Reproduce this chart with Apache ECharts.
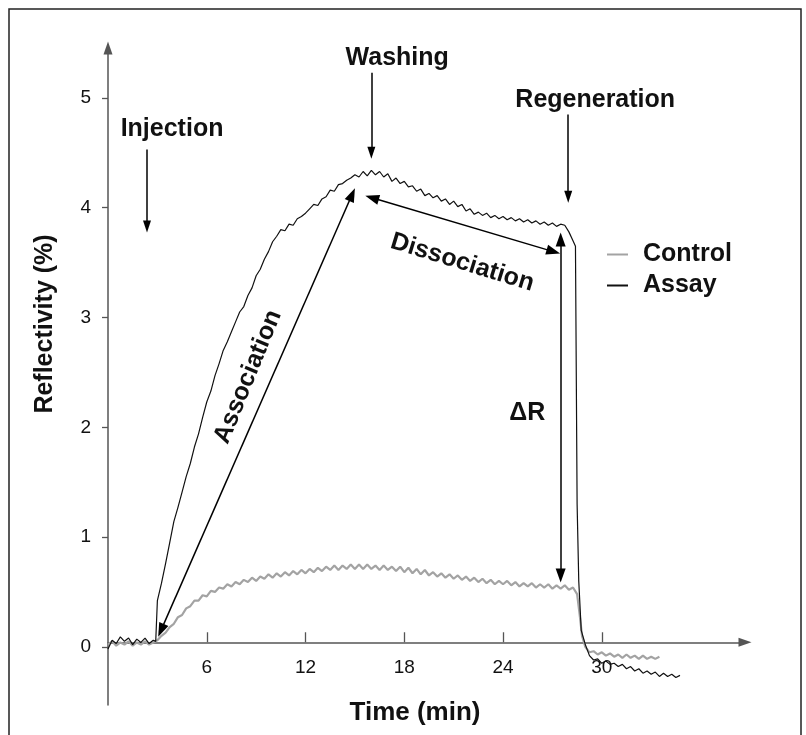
<!DOCTYPE html>
<html><head><meta charset="utf-8">
<script src="https://cdn.jsdelivr.net/npm/echarts@6/dist/echarts.min.js"></script>
<style>html,body{margin:0;padding:0;background:#fff}#c{width:806px;height:735px}</style>
</head><body><div id="c"></div>
<script>
// ---- data ----
const assayTime = [0,0.25,0.5,0.75,1,1.25,1.5,1.75,2,2.25,2.5,2.75,2.9,3,3.25,3.5,3.75,4,4.25,4.5,4.75,5,5.25,5.5,5.75,6,6.25,6.5,6.75,7,7.25,7.5,7.75,8,8.25,8.5,8.75,9,9.25,9.5,9.75,10,10.25,10.5,10.75,11,11.25,11.5,11.75,12,12.25,12.5,12.75,13,13.25,13.5,13.75,14,14.25,14.5,14.75,15,15.25,15.5,15.75,16,16.25,16.5,16.75,17,17.25,17.5,17.75,18,18.25,18.5,18.75,19,19.25,19.5,19.75,20,20.25,20.5,20.75,21,21.25,21.5,21.75,22,22.25,22.5,22.75,23,23.25,23.5,23.75,24,24.25,24.5,24.75,25,25.25,25.5,25.75,26,26.25,26.5,26.75,27,27.25,27.5,27.75,28,28.25,28.4,28.5,28.6,28.75,29,29.25,29.5,29.75,30,30.25,30.5,30.75,31,31.25,31.5,31.75,32,32.25,32.5,32.75,33,33.25,33.5,33.75,34,34.25,34.5,34.75];
const assayValue = [-0.02,0.06,0.03,0.09,0.05,0.08,0.02,0.07,0.04,0.08,0.03,0.06,0.05,0.42,0.58,0.76,0.95,1.14,1.27,1.41,1.55,1.67,1.82,1.94,2.09,2.23,2.33,2.47,2.58,2.70,2.78,2.87,2.96,3.05,3.10,3.20,3.27,3.38,3.44,3.53,3.60,3.69,3.74,3.80,3.79,3.85,3.84,3.90,3.92,3.95,3.99,4.03,4.02,4.08,4.10,4.16,4.15,4.21,4.22,4.25,4.27,4.30,4.28,4.33,4.29,4.34,4.30,4.33,4.28,4.31,4.24,4.27,4.22,4.24,4.19,4.20,4.15,4.17,4.11,4.13,4.09,4.11,4.06,4.08,4.03,4.06,4.01,4.03,3.97,3.99,3.94,3.96,3.93,3.95,3.91,3.93,3.90,3.92,3.89,3.91,3.88,3.90,3.87,3.89,3.86,3.88,3.85,3.87,3.84,3.86,3.83,3.85,3.84,3.78,3.70,3.65,1.30,0.60,0.15,0.02,-0.08,-0.12,-0.11,-0.15,-0.13,-0.16,-0.15,-0.18,-0.16,-0.20,-0.18,-0.22,-0.20,-0.24,-0.22,-0.25,-0.23,-0.27,-0.24,-0.27,-0.25,-0.28,-0.26];
const controlTime = [0,0.25,0.5,0.75,1,1.25,1.5,1.75,2,2.25,2.5,2.75,3,3.25,3.5,3.75,4,4.25,4.5,4.75,5,5.25,5.5,5.75,6,6.25,6.5,6.75,7,7.25,7.5,7.75,8,8.25,8.5,8.75,9,9.25,9.5,9.75,10,10.25,10.5,10.75,11,11.25,11.5,11.75,12,12.25,12.5,12.75,13,13.25,13.5,13.75,14,14.25,14.5,14.75,15,15.25,15.5,15.75,16,16.25,16.5,16.75,17,17.25,17.5,17.75,18,18.25,18.5,18.75,19,19.25,19.5,19.75,20,20.25,20.5,20.75,21,21.25,21.5,21.75,22,22.25,22.5,22.75,23,23.25,23.5,23.75,24,24.25,24.5,24.75,25,25.25,25.5,25.75,26,26.25,26.5,26.75,27,27.25,27.5,27.75,28,28.25,28.5,28.65,28.8,29,29.25,29.5,29.75,30,30.25,30.5,30.75,31,31.25,31.5,31.75,32,32.25,32.5,32.75,33,33.25,33.5];
const controlValue = [0.02,0.05,0.01,0.04,0.02,0.05,0.01,0.04,0.02,0.05,0.02,0.04,0.06,0.10,0.13,0.18,0.21,0.27,0.29,0.35,0.37,0.42,0.42,0.47,0.46,0.51,0.50,0.54,0.53,0.57,0.55,0.59,0.57,0.61,0.59,0.63,0.60,0.64,0.62,0.66,0.63,0.67,0.64,0.68,0.65,0.69,0.66,0.70,0.67,0.71,0.68,0.72,0.69,0.73,0.70,0.74,0.70,0.74,0.71,0.75,0.71,0.75,0.71,0.75,0.71,0.74,0.70,0.74,0.70,0.73,0.69,0.73,0.68,0.72,0.67,0.71,0.66,0.70,0.65,0.68,0.64,0.67,0.63,0.66,0.62,0.65,0.61,0.64,0.60,0.63,0.59,0.62,0.58,0.61,0.57,0.60,0.57,0.60,0.56,0.59,0.55,0.58,0.55,0.58,0.54,0.57,0.54,0.57,0.53,0.56,0.53,0.56,0.52,0.54,0.48,0.30,0.10,0.00,-0.05,-0.04,-0.07,-0.05,-0.08,-0.06,-0.09,-0.07,-0.10,-0.07,-0.10,-0.08,-0.11,-0.08,-0.11,-0.09,-0.11,-0.09];
const xTickValues = [6,12,18,24,30];
const yTickValues = [0,1,2,3,4,5];
const seriesNames = ['Control','Assay'];
// annotation arrows in data units
const arrowFrom = [[2.37,4.53],[16.0,5.23],[27.96,4.85],[3.22,0.15],[16.04,4.09],[27.5,3.71]];
const arrowTo   = [[2.37,3.83],[16.0,4.50],[27.96,4.10],[14.83,4.12],[27.06,3.60],[27.5,0.65]];
const arrowDouble = [false,false,false,true,true,true];
const annText = ['Injection','Washing','Regeneration','\u0394R','Association','Dissociation'];
const annAt = [[3.89,4.72],[17.57,5.36],[29.6,4.98],[25.47,2.13],[8.51,2.46],[21.52,3.50]];
const annRotate = [0,0,0,0,67.7,-17];

const FONT = '"Liberation Sans", Arial, Helvetica, sans-serif';
const chart = echarts.init(document.getElementById('c'), null, {renderer:'canvas'});
const axisColor = '#555';
const GRID = {left:108, right:61, top:48, bottom:30};

const markData = arrowFrom.map((f,i)=>[
  {coord:f, symbol: arrowDouble[i] ? 'triangle' : 'none', symbolSize: arrowDouble[i] ? [10,14] : [8,12]},
  {coord:arrowTo[i], symbol:'triangle', symbolSize: arrowDouble[i] ? [10,14] : [8,12]}
]);

chart.setOption({
  animation:false,
  backgroundColor:'#fff',
  grid:Object.assign({containLabel:false}, GRID),
  legend:{
    data:[{name:'Control', icon:'rect'},{name:'Assay', icon:'rect'}],
    orient:'vertical', left:602, top:237,
    itemWidth:21, itemHeight:2, itemGap:6,
    textStyle:{fontSize:25, fontWeight:'bold', color:'#111', fontFamily:FONT, padding:[0,0,0,10]}
  },
  xAxis:{
    type:'value', min:0, max:38.7,
    axisLine:{show:true, onZero:false, symbol:['none','triangle'], symbolSize:[9,13], lineStyle:{color:axisColor, width:1.5}},
    axisTick:{show:true, customValues:xTickValues, inside:true, length:10, lineStyle:{color:axisColor, width:1.3}},
    axisLabel:{customValues:xTickValues, fontSize:19, color:'#111', margin:16, fontFamily:FONT},
    splitLine:{show:false}
  },
  yAxis:{
    type:'value', min:-0.53, max:5.455,
    axisLine:{show:true, onZero:false, symbol:['none','triangle'], symbolSize:[9,13], lineStyle:{color:axisColor, width:1.5}},
    axisTick:{show:true, customValues:yTickValues, inside:false, length:6, lineStyle:{color:axisColor, width:1.3}},
    axisLabel:{customValues:yTickValues, fontSize:19, color:'#111', margin:17, fontFamily:FONT},
    splitLine:{show:false}
  },
  series:[
    {name:'Control', type:'line', symbol:'none', data:controlTime.map((t,i)=>[t,controlValue[i]]),
     lineStyle:{color:'#a3a3a3', width:2.2}, itemStyle:{color:'#a3a3a3'}, z:2},
    {name:'Assay', type:'line', symbol:'none', data:assayTime.map((t,i)=>[t,assayValue[i]]),
     lineStyle:{color:'#111', width:1.2}, itemStyle:{color:'#111'}, z:3},
    {name:'arrows', type:'line', data:[], z:4,
     markLine:{silent:true, animation:false, label:{show:false},
       lineStyle:{color:'#000', width:1.5, type:'solid'}, emphasis:{disabled:true},
       data:markData}}
  ]
});

// put the x axis (line, ticks, labels) on y = 0
const zeroY = chart.convertToPixel({yAxisIndex:0}, 0);
const bottomY = 735 - GRID.bottom;
chart.setOption({xAxis:{offset: zeroY - bottomY}});

const g = annText.map((t,i)=>{
  const p = chart.convertToPixel({gridIndex:0}, annAt[i]);
  return {type:'text', x:p[0], y:p[1], rotation:annRotate[i]*Math.PI/180, z:10,
    style:{text:t, fontSize:25, fontWeight:'bold', fontFamily:FONT, fill:'#111', align:'center', verticalAlign:'middle'}};
});
g.push({type:'text', x:45, y:324, rotation:Math.PI/2, z:10,
  style:{text:'Reflectivity (%)', fontSize:25, fontWeight:'bold', fontFamily:FONT, fill:'#111', align:'center', verticalAlign:'middle'}});
g.push({type:'text', x:415, y:713, z:10,
  style:{text:'Time (min)', fontSize:26, fontWeight:'bold', fontFamily:FONT, fill:'#111', align:'center', verticalAlign:'middle'}});
g.push({type:'rect', z:0, shape:{x:9, y:9, width:792, height:740}, style:{fill:'none', stroke:'#222', lineWidth:1.5}});
chart.setOption({graphic:g});
</script>
</body></html>
